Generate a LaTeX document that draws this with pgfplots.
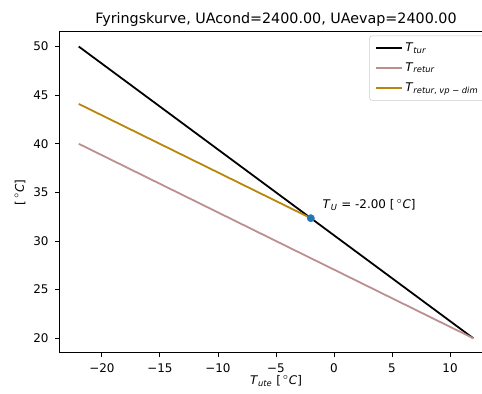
\documentclass[border=0pt]{standalone}
\usepackage{pgfplots}
\pgfplotsset{compat=1.18}
\usepackage{fontspec}
\setmainfont{DejaVu Sans}
\definecolor{rosy}{HTML}{BC8F8F}
\definecolor{dgold}{HTML}{B8860B}
\definecolor{tabblue}{HTML}{1F77B4}
\begin{document}
\begin{tikzpicture}
\begin{axis}[
  at={(0,0)}, anchor=south west,
  scale only axis, width=312.5pt, height=231.1pt,
  xmin=-23.7, xmax=13.7, ymin=18.5, ymax=51.5,
  axis line style={line width=0.69pt, black},
  tick align=outside, major tick length=3pt,
  every tick/.style={black, line width=0.69pt},
  xtick={-20,-15,-10,-5,0,5,10},
  xticklabels={−20,−15,−10,−5,0,5,10},
  ytick={20,25,30,35,40,45,50},
  yticklabels={20,25,30,35,40,45,50},
  tick label style={font=\fontsize{8.6}{10}\selectfont},
  xticklabel style={yshift=-1pt},
  yticklabel style={xshift=-1pt},
  xtick pos=bottom, ytick pos=left,
  title={Fyringskurve, UAcond=2400.00, UAevap=2400.00},
  title style={font=\fontsize{10.3}{12}\selectfont, at={(0.5,1)}, anchor=base, yshift=-0.2pt, inner sep=0pt},
  xlabel={\textit{T}\textsubscript{\textit{ute}} [\,$^\circ$\textit{C}]},
  xlabel style={at={(axis description cs:0.5,0)}, anchor=base, yshift=-23pt, inner sep=0pt},
  ylabel={[\,$^\circ$\textit{C}]},
  ylabel style={at={(axis description cs:-0.0896,0.5)}, anchor=center, inner sep=0pt},
  label style={font=\fontsize{8.6}{10}\selectfont},
  legend cell align=left,
  legend style={draw=black!20, rounded corners=2pt, font=\fontsize{8.6}{10}\selectfont,
    at={(1,1)}, anchor=north east, xshift=-4.3pt, yshift=-2.6pt, row sep=2.6pt,
    inner xsep=4pt, inner ysep=3pt},
  legend image code/.code={\draw[#1] (0pt,0pt) -- (18.5pt,0pt);},
]
\addplot[only marks, mark=*, mark size=2.6pt, tabblue, forget plot] coordinates {(-2,32.35)};
\addplot[black, line width=1.29pt] coordinates {(-22,50) (12,20)};
\addlegendentry{\textit{T}\textsubscript{\textit{tur}}}
\addplot[rosy, line width=1.29pt] coordinates {(-22,40) (12,20)};
\addlegendentry{\textit{T}\textsubscript{\textit{retur}}}
\addplot[dgold, line width=1.29pt] coordinates {(-22,44.1) (-2,32.35)};
\addlegendentry{\textit{T}\textsubscript{\textit{retur}, \textit{vp} − \textit{dim}}}
\node[anchor=base west, inner sep=0pt, font=\fontsize{8.6}{10}\selectfont] at (axis cs:-1,33.35) {\textit{T}\textsubscript{\textit{U}} = -2.00 [\,$^\circ$\textit{C}]};
\end{axis}
\pgfresetboundingbox
\useasboundingbox (-42.5pt,-29.5pt) rectangle (304.6pt,254.1pt);
\end{tikzpicture}
\end{document}
